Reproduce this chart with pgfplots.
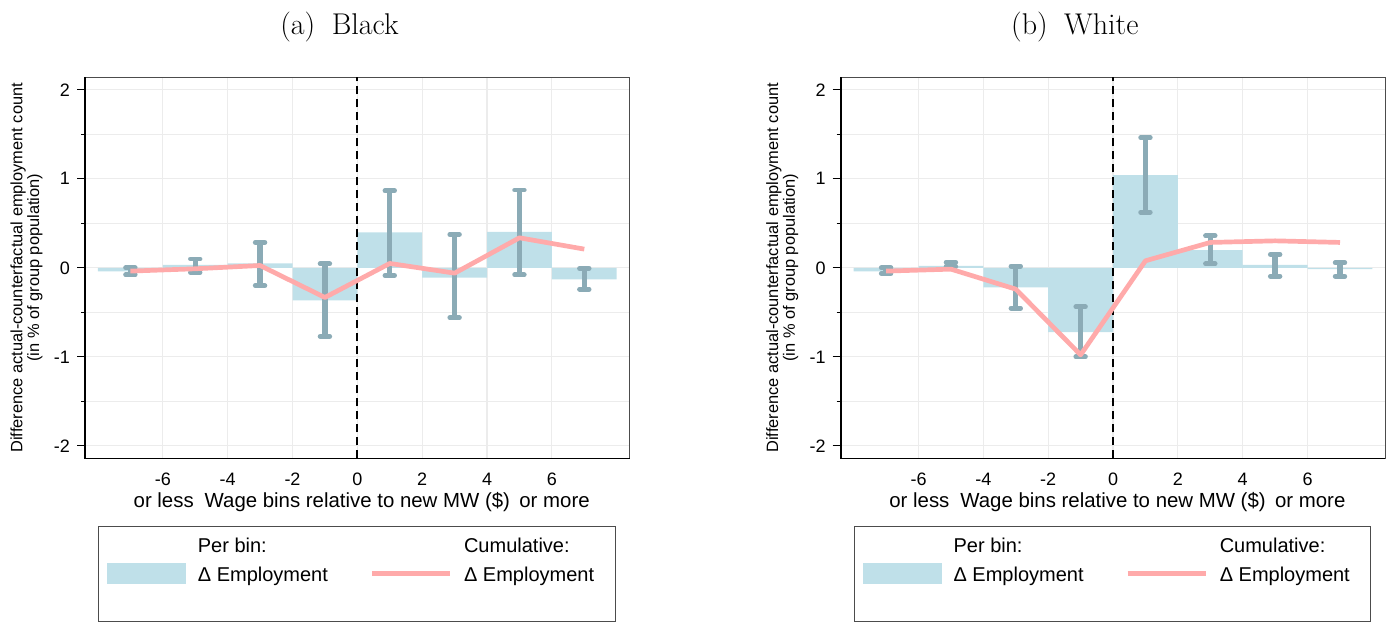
\documentclass[border=0pt]{standalone}
\usepackage{fontspec}
\setsansfont{Liberation Sans}
\usepackage{pgfplots}
\pgfplotsset{compat=1.18}
\usepackage{pgfplotstable}
\definecolor{barc}{RGB}{191,224,233}
\definecolor{errc}{RGB}{139,171,182}
\definecolor{linec}{RGB}{255,170,170}
\definecolor{gridc}{RGB}{236,236,236}

% x = bin centre, bar = per-bin change, lo/hi = CI, cum = cumulative change
\pgfplotstableread{
x bar lo hi cum
-7 -0.040 -0.079 0.000 -0.037
-5 0.034 -0.050 0.100 -0.011
-3 0.049 -0.200 0.285 0.026
-1 -0.367 -0.770 0.045 -0.333
1 0.397 -0.086 0.865 0.049
3 -0.109 -0.560 0.375 -0.060
5 0.404 -0.079 0.873 0.337
7 -0.131 -0.240 -0.007 0.210
}\tblBlack
\pgfplotstableread{
x bar lo hi cum
-7 -0.041 -0.064 0.000 -0.037
-5 0.022 0.015 0.064 -0.015
-3 -0.221 -0.453 0.019 -0.240
-1 -0.723 -1.000 -0.438 -0.978
1 1.041 0.625 1.461 0.079
3 0.199 0.045 0.360 0.285
5 0.034 -0.094 0.150 0.303
7 -0.015 -0.094 0.056 0.285
}\tblWhite

\pgfplotsset{
  every axis title shift=0pt,
  panel/.style={
    scale only axis, width=272.35pt, height=190.5pt,
    anchor=north west, clip=false,
    xmin=-8.4, xmax=8.4, ymin=-2.14, ymax=2.14,
    xtick={-6,-4,-2,0,2,4,6}, xticklabels={-6,-4,-2,0,2,4,6},
    ytick={-2,-1,0,1,2}, yticklabels={-2,-1,0,1,2},
    minor ytick={-1.5,-0.5,0.5,1.5},
    xmajorgrids, ymajorgrids, yminorgrids,
    major grid style={gridc, line width=0.6pt},
    minor grid style={gridc, line width=0.6pt},
    tick align=outside, ytick pos=left, xtick pos=bottom,
    major tick length=4pt, minor tick length=2pt,
    xtick style={draw=none},
    ytick style={black, line width=0.6pt},
    tick label style={font=\sffamily\fontsize{9}{10}\selectfont},
    axis line style={draw=black!70, line width=0.5pt},
    title style={font=\rmfamily\fontsize{15}{18}\selectfont, anchor=base},
    xlabel={Wage bins relative to new MW (\$)},
    xlabel style={font=\sffamily\fontsize{10.2}{11}\selectfont, at={(0.5,-0.1278)}, anchor=base},
    ylabel={Difference actual-counterfactual employment count\\(in \% of group population)},
    ylabel style={align=center, font=\sffamily\fontsize{8.2}{8.35}\selectfont, at={(-0.1074,0.5)}, anchor=center},
    legend columns=2,
    legend style={at={(0.0244,-0.1769)}, anchor=north west, draw=black!70, line width=0.5pt,
      inner xsep=4.2pt, inner ysep=0pt, font=\sffamily\fontsize{10}{12}\selectfont,
      nodes={inner sep=0pt, anchor=base west},
      /tikz/every odd column/.append style={column sep=5.85pt},
      /tikz/every even column/.append style={column sep=20.85pt}},
  },
  errs/.style={forget plot, draw=none, mark=none,
    error bars/.cd, y dir=both, y explicit,
    error bar style={draw=errc, line width=2.7pt},
    error mark=|,
    error mark options={draw=errc, line width=2.4pt, mark size=2.4pt, line cap=round}},
}

\newcommand{\panelcontent}[1]{%
  \addplot[forget plot, ybar, bar width=2, bar shift=0pt, fill=barc, draw=none] table[x=x, y=bar] {#1};
  \addplot[forget plot, black, line width=1pt, dash pattern=on 4pt off 2.5pt] coordinates {(0,-2.14) (0,2.14)};
  \addplot[errs] table[x=x, y expr={(\thisrow{hi}+\thisrow{lo})/2}, y error expr={(\thisrow{hi}-\thisrow{lo})/2}] {#1};
  \addplot[forget plot, linec, line width=2.35pt, line join=round] table[x=x, y=cum] {#1};
  \draw[black, line width=0.8pt] (rel axis cs:0,1) -- (rel axis cs:0,0) -- (rel axis cs:1,0);
  \node[font=\sffamily\fontsize{10.2}{11}\selectfont, anchor=base] at (rel axis cs:0.1445,-0.1278) {or less};
  \node[font=\sffamily\fontsize{10.2}{11}\selectfont, anchor=base] at (rel axis cs:0.862,-0.1278) {or more};
  \addlegendimage{legend image code/.code={\fill[barc] (0pt,-1.15pt) rectangle (39pt,9.15pt); \path (0pt,-19.5pt) -- (0pt,-19.5pt);}}
  \addlegendentry{\begin{tabular}[b]{@{}l@{}}\rule{0pt}{13.15pt}Per bin:\\[2.5pt]Δ Employment\end{tabular}}
  \addlegendimage{legend image code/.code={\draw[linec, line width=2.35pt] (0pt,3.85pt) -- (39pt,3.85pt);}}
  \addlegendentry{\begin{tabular}[b]{@{}l@{\hspace{6.3pt}}}Cumulative:\\[2.5pt]Δ Employment\end{tabular}}
}

\begin{document}
\begin{tikzpicture}
\path[use as bounding box] (0pt,0pt) rectangle (696.5pt,-311pt);
\begin{axis}[panel, at={(42.5pt,-38.65pt)},
  title={(a)\hspace{0.55em}Black}, title style={at={(0.4672,1.1129)}}]
\panelcontent{\tblBlack}
\end{axis}
\begin{axis}[panel, at={(420.35pt,-38.65pt)},
  title={(b)\hspace{0.55em}White}, title style={at={(0.4299,1.1129)}}]
\panelcontent{\tblWhite}
\end{axis}
\end{tikzpicture}
\end{document}
